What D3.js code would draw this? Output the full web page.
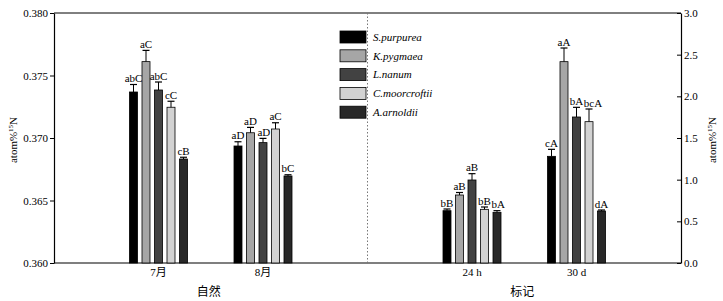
<!DOCTYPE html>
<html>
<head>
<meta charset="utf-8">
<script src="https://cdn.jsdelivr.net/npm/d3@7"></script>
<style>
  body { margin: 0; background: #fff; }
  svg text { font-family: "Liberation Serif", "Times New Roman", "Noto Sans CJK SC", serif; fill: #000; }
</style>
</head>
<body>
<div id="chart"></div>
<script>
const svgWidth = 723;
const svgHeight = 301;
const margin = { top: 13, right: 42, bottom: 38, left: 54 };
const width = svgWidth - margin.left - margin.right;
const height = svgHeight - margin.top - margin.bottom;

// categories: first two on left axis (自然), last two on right axis (标记)
const categories = ["7月", "8月", "24 h", "30 d"];
const groupNames = ["自然", "标记"];
const species = ["S.purpurea", "K.pygmaea", "L.nanum", "C.moorcroftii", "A.arnoldii"];
const speciesColors = ["#000000", "#a6a6a6", "#424242", "#d2d2d2", "#282828"];

const leftTicks = [0.360, 0.365, 0.370, 0.375, 0.380];
const rightTicks = [0.0, 0.5, 1.0, 1.5, 2.0, 2.5, 3.0];

const valSP = [0.37368, 0.36936, 0.628, 1.280];
const valKP = [0.37611, 0.37042, 0.816, 2.416];
const valLN = [0.37384, 0.36963, 0.996, 1.752];
const valCM = [0.37246, 0.37072, 0.644, 1.696];
const valAA = [0.36832, 0.36696, 0.608, 0.624];

const errSP = [0.00060, 0.00034, 0.020, 0.084];
const errKP = [0.00090, 0.00043, 0.030, 0.164];
const errLN = [0.00064, 0.00034, 0.076, 0.116];
const errCM = [0.00048, 0.00050, 0.028, 0.152];
const errAA = [0.00014, 0.00010, 0.020, 0.012];

const labSP = ["abC", "aD", "bB", "cA"];
const labKP = ["aC", "aD", "aB", "aA"];
const labLN = ["abC", "aD", "aB", "bA"];
const labCM = ["cC", "aC", "bB", "bcA"];
const labAA = ["cB", "bC", "bA", "dA"];

const values = [valSP, valKP, valLN, valCM, valAA];
const errors = [errSP, errKP, errLN, errCM, errAA];
const letters = [labSP, labKP, labLN, labCM, labAA];

const svg = d3.select("#chart")
    .append("svg")
    .attr("width", svgWidth)
    .attr("height", svgHeight)
    .append("g")
    .attr("transform", `translate(${margin.left}, ${margin.top})`);

// point scale with an empty slot in the middle for the divider
const x = d3.scalePoint()
    .domain([categories[0], categories[1], "gap", categories[2], categories[3]])
    .range([0, width])
    .padding(1);

const xs = d3.scaleBand()
    .domain(species)
    .range([-31.25, 31.25])
    .paddingInner(0.36)
    .paddingOuter(0.18);

const yLeft = d3.scaleLinear().domain([0.360, 0.380]).range([height, 0]);
const yRight = d3.scaleLinear().domain([0, 3]).range([height, 0]);

const data = [];
categories.forEach((c, ci) => {
    species.forEach((s, si) => {
        data.push({
            cat: c, sp: s, color: speciesColors[si],
            value: values[si][ci], err: errors[si][ci], label: letters[si][ci],
            y: ci < 2 ? yLeft : yRight
        });
    });
});

// frame lines
svg.append("line").attr("x1", 0).attr("x2", width).attr("y1", 0).attr("y2", 0)
    .attr("stroke", "#000").attr("stroke-width", 1);
svg.append("line").attr("x1", 0).attr("x2", width).attr("y1", height).attr("y2", height)
    .attr("stroke", "#000").attr("stroke-width", 1.2);

// divider
svg.append("line")
    .attr("x1", x("gap")).attr("x2", x("gap"))
    .attr("y1", 0).attr("y2", height)
    .attr("stroke", "#777").attr("stroke-width", 1)
    .attr("stroke-dasharray", "1.5,2");

const bars = svg.append("g").selectAll("g")
    .data(data)
    .enter().append("g");

bars.append("rect")
    .attr("x", d => x(d.cat) + xs(d.sp))
    .attr("width", xs.bandwidth())
    .attr("y", d => d.y(d.value))
    .attr("height", d => height - d.y(d.value))
    .attr("fill", d => d.color)
    .attr("stroke", "#000")
    .attr("stroke-width", 0.8);

bars.append("line")
    .attr("x1", d => x(d.cat) + xs(d.sp) + xs.bandwidth() / 2)
    .attr("x2", d => x(d.cat) + xs(d.sp) + xs.bandwidth() / 2)
    .attr("y1", d => d.y(d.value))
    .attr("y2", d => d.y(d.value + d.err))
    .attr("stroke", "#000").attr("stroke-width", 1);

bars.append("line")
    .attr("x1", d => x(d.cat) + xs(d.sp) + 0.5)
    .attr("x2", d => x(d.cat) + xs(d.sp) + xs.bandwidth() - 0.5)
    .attr("y1", d => d.y(d.value + d.err))
    .attr("y2", d => d.y(d.value + d.err))
    .attr("stroke", "#000").attr("stroke-width", 1.2);

const barLabels = bars.append("text")
    .attr("class", "bar-label")
    .attr("x", d => x(d.cat) + xs(d.sp) + xs.bandwidth() / 2)
    .attr("y", d => d.y(d.value + d.err) - 2.5)
    .attr("text-anchor", "middle")
    .style("font-size", "11px")
    .text(d => d.label);

// push a label right when it runs into its left neighbour at a similar height
categories.forEach(c => {
    let prev = null;
    barLabels.filter(d => d.cat === c).each(function () {
        const b = this.getBBox();
        if (prev && Math.abs(prev.y - b.y) < b.height && b.x < prev.x + prev.width) {
            const shift = prev.x + prev.width - b.x + 0.5;
            d3.select(this).attr("x", +d3.select(this).attr("x") + shift);
            b.x += shift;
        }
        prev = b;
    });
});

// axes
const leftAxis = svg.append("g")
    .call(d3.axisLeft(yLeft).tickValues(leftTicks).tickFormat(d3.format(".3f"))
        .tickSizeInner(4).tickSizeOuter(0).tickPadding(2));
leftAxis.selectAll("text").style("font-size", "11px");

const rightAxis = svg.append("g")
    .attr("transform", `translate(${width}, 0)`)
    .call(d3.axisRight(yRight).tickValues(rightTicks).tickFormat(d3.format(".1f"))
        .tickSizeInner(-4).tickSizeOuter(0).tickPadding(3));
rightAxis.selectAll("text").style("font-size", "11px");

svg.selectAll(".domain").attr("stroke", "#000").attr("stroke-width", 1.2);

// category labels
svg.append("g").selectAll("text")
    .data(categories)
    .enter().append("text")
    .attr("x", d => x(d))
    .attr("y", height + 13)
    .attr("text-anchor", "middle")
    .style("font-size", "11px")
    .text(d => d);

svg.append("g").selectAll("text")
    .data(groupNames)
    .enter().append("text")
    .attr("x", (d, i) => (x(categories[i * 2]) + x(categories[i * 2 + 1])) / 2 - 2)
    .attr("y", height + 33)
    .attr("text-anchor", "middle")
    .style("font-size", "12px")
    .text(d => d);

// y titles
const yTitle = (tx) => {
    const t = svg.append("text")
        .attr("transform", `translate(${tx}, ${height / 2 + 2}) rotate(-90)`)
        .attr("text-anchor", "middle")
        .style("font-size", "11px");
    t.append("tspan").text("atom%");
    t.append("tspan").attr("baseline-shift", "super").style("font-size", "7px").text("15");
    t.append("tspan").text("N");
};
yTitle(-37);
yTitle(width + 35);

// legend
const legend = svg.append("g")
    .attr("transform", `translate(${286}, ${18})`);

species.forEach((s, i) => {
    const g = legend.append("g")
        .attr("transform", `translate(0, ${i * 18.8})`);
    g.append("rect")
        .attr("width", 26)
        .attr("height", 12)
        .attr("fill", speciesColors[i])
        .attr("stroke", "#000")
        .attr("stroke-width", 0.8);
    g.append("text")
        .attr("x", 33)
        .attr("y", 6)
        .attr("dy", "0.35em")
        .style("font-size", "11px")
        .style("font-style", "italic")
        .text(s);
});
</script>
</body>
</html>
